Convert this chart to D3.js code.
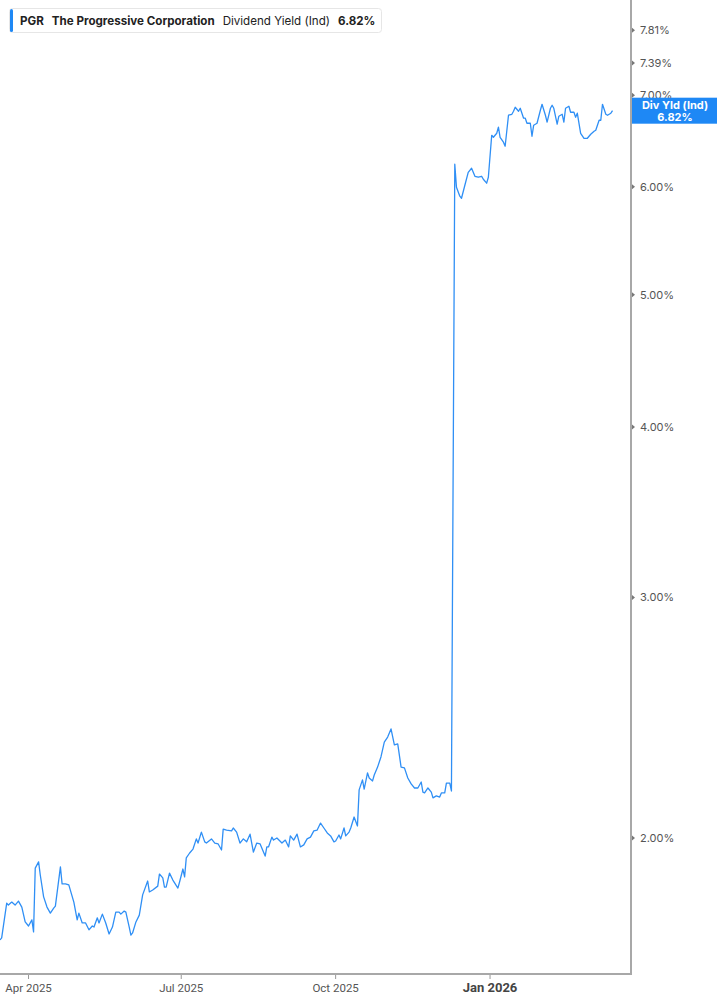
<!DOCTYPE html>
<html>
<head>
<meta charset="utf-8">
<script src="https://cdn.jsdelivr.net/npm/d3@7"></script>
<style>
  body { margin: 0; background: #fff; }
  svg { display: block; font-family: Inter, "Noto Sans", sans-serif; }
</style>
</head>
<body>
<svg id="chart" width="717" height="1005"></svg>
<script>
// PGR dividend yield (indicated)
const dates = [
  "2025-03-15","2025-03-16","2025-03-19","2025-03-20","2025-03-22","2025-03-24","2025-03-26","2025-03-28","2025-03-30",
  "2025-04-01","2025-04-03","2025-04-04","2025-04-05","2025-04-07","2025-04-08","2025-04-10","2025-04-12","2025-04-14",
  "2025-04-16","2025-04-17","2025-04-20","2025-04-21","2025-04-23","2025-04-25","2025-04-28","2025-04-30",
  "2025-05-01","2025-05-03","2025-05-05","2025-05-07","2025-05-09","2025-05-10","2025-05-12","2025-05-13","2025-05-15",
  "2025-05-17","2025-05-19","2025-05-21","2025-05-23","2025-05-25","2025-05-26","2025-05-28","2025-05-29","2025-05-31",
  "2025-06-01","2025-06-02","2025-06-04","2025-06-06","2025-06-08","2025-06-11","2025-06-12","2025-06-14","2025-06-17",
  "2025-06-18","2025-06-20","2025-06-21","2025-06-22","2025-06-24","2025-06-26","2025-06-29","2025-06-30",
  "2025-07-02","2025-07-03","2025-07-04","2025-07-06","2025-07-08","2025-07-10","2025-07-11","2025-07-13","2025-07-15",
  "2025-07-16","2025-07-19","2025-07-21","2025-07-23","2025-07-25","2025-07-26","2025-07-28","2025-07-31",
  "2025-08-01","2025-08-03","2025-08-05","2025-08-07","2025-08-09","2025-08-11","2025-08-13","2025-08-15","2025-08-17",
  "2025-08-20","2025-08-21","2025-08-22","2025-08-24","2025-08-25","2025-08-27","2025-08-30",
  "2025-09-01","2025-09-03","2025-09-04","2025-09-06","2025-09-08","2025-09-10","2025-09-12","2025-09-14","2025-09-16",
  "2025-09-18","2025-09-20","2025-09-22","2025-09-24","2025-09-26","2025-09-28","2025-09-30",
  "2025-10-01","2025-10-03","2025-10-04","2025-10-06","2025-10-07","2025-10-09","2025-10-10","2025-10-12","2025-10-14",
  "2025-10-15","2025-10-17","2025-10-18","2025-10-20","2025-10-21","2025-10-23","2025-10-24","2025-10-26","2025-10-28",
  "2025-10-30","2025-11-01","2025-11-03","2025-11-05","2025-11-07","2025-11-09","2025-11-11","2025-11-13","2025-11-15",
  "2025-11-17","2025-11-19","2025-11-21","2025-11-22","2025-11-23","2025-11-25","2025-11-27","2025-11-28","2025-11-30",
  "2025-12-02","2025-12-03","2025-12-05","2025-12-06","2025-12-08","2025-12-09","2025-12-11","2025-12-12","2025-12-14",
  "2025-12-15","2025-12-17","2025-12-19","2025-12-21","2025-12-23","2025-12-25","2025-12-27","2025-12-28","2025-12-30",
  "2025-12-31","2026-01-02","2026-01-03","2026-01-05","2026-01-06","2026-01-07","2026-01-09","2026-01-10","2026-01-12",
  "2026-01-14","2026-01-15","2026-01-16","2026-01-18","2026-01-19","2026-01-21","2026-01-22","2026-01-23","2026-01-25",
  "2026-01-26","2026-01-27","2026-01-29","2026-01-31","2026-02-01","2026-02-03","2026-02-04","2026-02-06","2026-02-07",
  "2026-02-08","2026-02-10","2026-02-11","2026-02-13","2026-02-14","2026-02-15","2026-02-17","2026-02-18","2026-02-20",
  "2026-02-21","2026-02-22","2026-02-24","2026-02-26","2026-02-28","2026-03-02","2026-03-04","2026-03-05","2026-03-07",
  "2026-03-08","2026-03-09","2026-03-11","2026-03-12","2026-03-14","2026-03-15"
];
const yields = [
  1.684,1.690,1.792,1.786,1.795,1.786,1.798,1.780,1.736,
  1.724,1.742,1.707,1.901,1.921,1.879,1.811,1.780,1.762,
  1.777,1.783,1.905,1.851,1.851,1.848,1.795,1.742,
  1.762,1.733,1.733,1.713,1.724,1.721,1.748,1.733,1.759,
  1.733,1.701,1.721,1.765,1.765,1.759,1.768,1.765,1.721,
  1.698,1.704,1.736,1.756,1.817,1.860,1.826,1.832,1.844,
  1.882,1.870,1.841,1.841,1.885,1.863,1.838,1.857,
  1.898,1.873,1.934,1.950,1.963,1.997,1.983,2.020,1.987,
  1.983,1.997,1.983,1.980,1.960,2.030,2.027,2.024,
  2.034,2.020,1.983,1.997,1.987,2.013,1.953,1.983,1.980,
  1.940,1.970,1.970,2.003,1.993,2.000,1.983,
  1.993,1.970,2.007,1.993,2.013,1.970,1.977,1.997,2.003,
  2.024,2.027,2.051,2.034,2.017,2.007,1.987,
  1.990,2.010,1.997,2.034,2.007,2.020,2.034,2.072,2.041,
  2.169,2.206,2.172,2.232,2.213,2.202,2.224,2.254,2.293,
  2.351,2.371,2.404,2.340,2.344,2.254,2.251,2.213,2.191,
  2.176,2.176,2.198,2.161,2.158,2.176,2.161,2.140,2.147,
  2.143,2.158,2.158,2.194,2.194,2.165,6.231,5.994,5.904,
  5.884,6.014,6.147,6.189,6.106,6.096,6.106,6.075,6.035,
  6.096,6.543,6.521,6.565,6.633,6.521,6.467,6.423,6.768,
  6.779,6.814,6.860,6.814,6.848,6.734,6.734,6.677,6.677,
  6.532,6.655,6.677,6.825,6.894,6.768,6.689,6.848,6.883,
  6.848,6.666,6.757,6.779,6.689,6.848,6.871,6.802,6.802,
  6.745,6.791,6.565,6.510,6.510,6.554,6.588,6.599,6.711,
  6.711,6.894,6.779,6.768,6.791,6.82
];

const yTicks = [2, 3, 4, 5, 6, 7, 7.39, 7.81];
const xTicks = ["2025-04-01", "2025-07-01", "2025-10-01", "2026-01-01"];
const xTickLabels = ["Apr 2025", "Jul 2025", "Oct 2025", "Jan 2026"];

const ticker = "PGR";
const company = "The Progressive Corporation";
const metric = "Dividend Yield (Ind)";
const lastValue = yields[yields.length - 1];

const parse = d3.utcParse("%Y-%m-%d");
const series = dates.map((d, i) => ({ date: parse(d), value: yields[i] }));

const svg = d3.select("#chart");
const plotRight = 631, plotBottom = 974;

const x = d3.scaleUtc()
    .domain([parse("2025-03-15"), parse("2026-03-26")])
    .range([0, plotRight]);

const y = d3.scaleLog()
    .domain([1.59, 8.22])
    .range([plotBottom, 0]);

const fmt = d => d.toFixed(2) + "%";

// line
const line = d3.line()
    .x(d => x(d.date))
    .y(d => y(d.value));

svg.append("path")
    .datum(series)
    .attr("fill", "none")
    .attr("stroke", "#2f8ff5")
    .attr("stroke-width", 1.3)
    .attr("stroke-linejoin", "round")
    .attr("d", line);

// right axis
const yAxis = svg.append("g")
    .attr("transform", `translate(${plotRight},0)`);
yAxis.append("line")
    .attr("y1", 0).attr("y2", plotBottom + 1)
    .attr("stroke", "#a8a8a8").attr("stroke-width", 2);
const yt = yAxis.selectAll(".yt")
    .data(yTicks)
    .enter().append("g")
    .attr("transform", d => `translate(0,${y(d)})`);
yt.append("path")
    .attr("d", "M1,-2.5L4,0L1,2.5Z")
    .attr("fill", "#777");
yt.append("text")
    .attr("x", 9)
    .attr("dy", "0.35em")
    .attr("font-size", 11)
    .attr("fill", "#555")
    .text(fmt);

// bottom axis
const xAxis = svg.append("g")
    .attr("transform", `translate(0,${plotBottom})`);
xAxis.append("line")
    .attr("x1", 0).attr("x2", plotRight)
    .attr("stroke", "#a8a8a8").attr("stroke-width", 2);
const xt = xAxis.selectAll(".xt")
    .data(xTicks)
    .enter().append("g")
    .attr("transform", d => `translate(${x(parse(d))},0)`);
xt.append("line")
    .attr("y1", 1).attr("y2", 5)
    .attr("stroke", "#999");
xt.append("text")
    .attr("y", 18)
    .attr("text-anchor", "middle")
    .attr("font-family", "'Liberation Sans Narrow', 'Roboto', sans-serif")
    .attr("font-size", (d, i) => i === 3 ? 13 : 11.5)
    .attr("font-weight", (d, i) => i === 3 ? "bold" : "normal")
    .attr("fill", (d, i) => i === 3 ? "#444" : "#555")
    .text((d, i) => xTickLabels[i]);

// last value flag
const flag = svg.append("g")
    .attr("transform", `translate(${plotRight + 1},${y(lastValue)})`);
flag.append("rect")
    .attr("x", 0).attr("y", -13)
    .attr("width", 717 - plotRight).attr("height", 26)
    .attr("fill", "#1e88f5");
flag.append("text")
    .attr("x", 43).attr("y", -2)
    .attr("text-anchor", "middle")
    .attr("font-size", 11).attr("font-weight", "bold")
    .attr("fill", "#fff")
    .text("Div Yld (Ind)");
flag.append("text")
    .attr("x", 43).attr("y", 10)
    .attr("text-anchor", "middle")
    .attr("font-size", 11).attr("font-weight", "bold")
    .attr("fill", "#fff")
    .text(fmt(lastValue));

// legend box
const legend = svg.append("g");
legend.append("rect")
    .attr("x", 9.5).attr("y", 8.5)
    .attr("width", 372).attr("height", 24)
    .attr("rx", 3)
    .attr("fill", "#fff")
    .attr("stroke", "#e6e6e6");
legend.append("rect")
    .attr("x", 10).attr("y", 9)
    .attr("width", 3).attr("height", 23)
    .attr("rx", 1.5)
    .attr("fill", "#1e88f5");
const lt = legend.append("text")
    .attr("x", 20).attr("y", 25)
    .attr("font-size", 11.6)
    .attr("fill", "#222");
lt.append("tspan").attr("font-weight", "bold").text(ticker);
lt.append("tspan").attr("dx", 8).attr("font-weight", "bold").text(company);
lt.append("tspan").attr("dx", 8).text(metric);
lt.append("tspan").attr("dx", 8).attr("font-weight", "bold").text(fmt(lastValue));
</script>
</body>
</html>
